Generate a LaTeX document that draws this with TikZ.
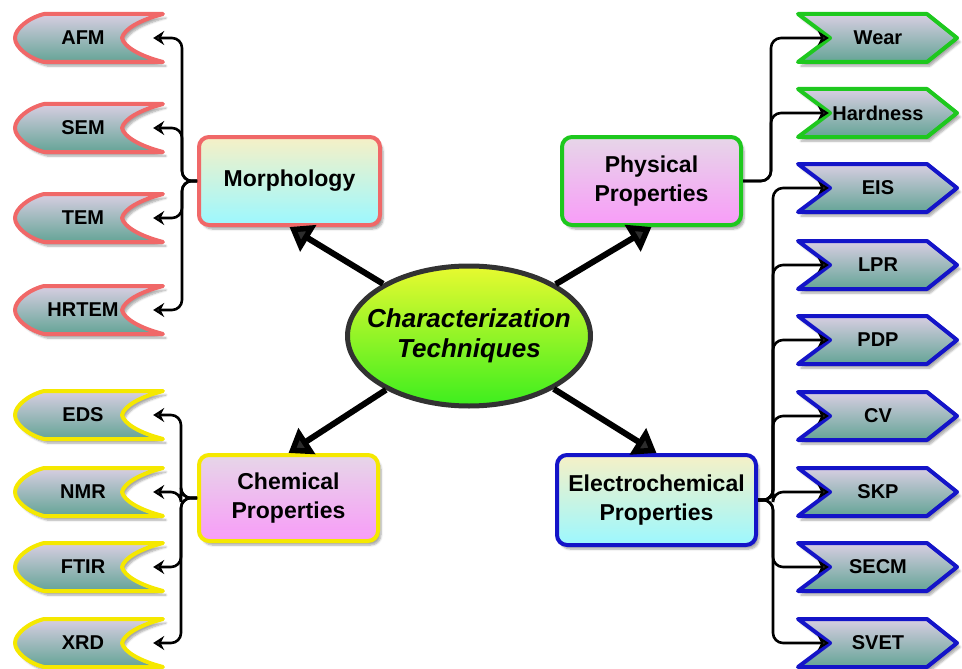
\documentclass[tikz,border=0pt]{standalone}
\usepackage{fontspec}
\setmainfont{Liberation Sans}
\usetikzlibrary{arrows.meta,shadows.blur,shapes.geometric}
\definecolor{redc}{RGB}{240,104,104}
\definecolor{yelc}{RGB}{245,232,0}
\definecolor{grnc}{RGB}{30,200,30}
\definecolor{bluc}{RGB}{20,20,200}
\definecolor{tagtop}{RGB}{216,206,226}
\definecolor{tagbot}{RGB}{100,164,150}
\definecolor{cream}{RGB}{246,240,198}
\definecolor{cyanb}{RGB}{156,248,255}
\definecolor{lav}{RGB}{230,214,232}
\definecolor{pinkb}{RGB}{248,156,248}
\definecolor{ellt}{RGB}{232,250,48}
\definecolor{ellb}{RGB}{60,238,30}
\definecolor{ellbd}{RGB}{50,50,50}
\tikzset{
  softshadow/.style={blur shadow={shadow xshift=3pt,shadow yshift=-4pt,shadow blur steps=6,shadow opacity=35}},
  tagshape/.style={line width=4pt, line join=round, top color=tagtop, bottom color=tagbot, softshadow},
  tagtxt/.style={font=\fontsize{20}{24}\selectfont\bfseries, inner sep=0pt, minimum height=49pt},
  boxstyle/.style={rounded corners=10pt, line width=4pt, align=center, inner sep=0pt,
     font=\fontsize{23}{29}\selectfont\bfseries, softshadow},
  yc/.style={top color=cream, bottom color=cyanb},
  lp/.style={top color=lav, bottom color=pinkb},
  conn/.style={line width=2.6pt, rounded corners=10pt, -{Stealth[length=11pt,width=14pt]}},
  bigarrow/.style={line width=6pt, -{Triangle[length=22pt,width=30pt]}},
}
\newcommand\LTag[4]{%
  \path[tagshape, draw=#3] (44,{#2-24}) -- (163,{#2-24})
    .. controls (140,{#2-18}) and (124,{#2-9}) .. (122,#2)
    .. controls (124,{#2+9}) and (140,{#2+18}) .. (163,{#2+24})
    -- (44,{#2+24})
    .. controls (28,{#2+20}) and (15,{#2+9}) .. (15,#2)
    .. controls (15,{#2-9}) and (28,{#2-20}) .. (44,{#2-24}) -- cycle;
  \node[tagtxt, minimum width=140pt] (#1) at (83,#2) {#4};
}
\newcommand\RTag[4]{%
  \path[tagshape, draw=#3] (798,{#2-24}) -- (927,{#2-24}) -- (957,#2)
    -- (927,{#2+24}) -- (798,{#2+24}) -- (830,#2) -- cycle;
  \node[tagtxt, minimum width=98pt] (#1) at (878,#2) {#4};
}
\begin{document}
\begin{tikzpicture}[x=1pt,y=-1pt]
\useasboundingbox (0,0) rectangle (962,669);

% left tags
\LTag{afm}{38}{redc}{AFM}
\LTag{sem}{128}{redc}{SEM}
\LTag{tem}{218}{redc}{TEM}
\LTag{hrtem}{310}{redc}{HRTEM}
\LTag{eds}{415}{yelc}{EDS}
\LTag{nmr}{492}{yelc}{NMR}
\LTag{ftir}{567}{yelc}{FTIR}
\LTag{xrd}{643}{yelc}{XRD}
% right tags
\RTag{wear}{38}{grnc}{Wear}
\RTag{hard}{113}{grnc}{Hardness}
\RTag{eis}{188}{bluc}{EIS}
\RTag{lpr}{265}{bluc}{LPR}
\RTag{pdp}{340}{bluc}{PDP}
\RTag{cv}{416}{bluc}{CV}
\RTag{skp}{492}{bluc}{SKP}
\RTag{secm}{567}{bluc}{SECM}
\RTag{svet}{643}{bluc}{SVET}

% category boxes
\node[boxstyle, yc, draw=redc, minimum width=181pt, minimum height=88pt] (morph) at (289.5,181) {Morphology};
\node[boxstyle, lp, draw=grnc, minimum width=179pt, minimum height=88pt] (phys) at (651.5,181) {Physical\\Properties};
\node[boxstyle, lp, draw=yelc, minimum width=179pt, minimum height=86pt] (chem) at (288.5,498) {Chemical\\Properties};
\node[boxstyle, yc, draw=bluc, minimum width=199pt, minimum height=90pt] (elec) at (656.5,500) {Electrochemical\\Properties};

% centre
\node[ellipse, draw=ellbd, line width=5pt, top color=ellt, bottom color=ellb,
      minimum width=243pt, minimum height=140pt, inner xsep=-20pt, inner ysep=0pt, align=center,
      font=\fontsize{26}{30}\selectfont\bfseries\itshape] (ct) at (469,336) {Characterization\\Techniques};

% thick arrows
\draw[bigarrow] (ct) -- (morph.south);
\draw[bigarrow] (ct) -- (phys.south);
\draw[bigarrow] (ct) -- (chem.north);
\draw[bigarrow] (ct) -- (elec.north);

% connectors
\foreach \t in {afm,sem,tem,hrtem}
  \draw[conn] (morph.west) -- ++(-15,0) |- (\t.east);
\foreach \t in {eds,nmr,ftir,xrd}
  \draw[conn] (chem.west) -- ++(-16,0) |- (\t.east);
\foreach \t in {wear,hard}
  \draw[conn] (phys.east) -- ++(28,0) |- (\t.west);
\foreach \t in {eis,lpr,pdp,cv,skp,secm,svet}
  \draw[conn] (elec.east) -- ++(15,0) |- (\t.west);
\end{tikzpicture}
\end{document}
